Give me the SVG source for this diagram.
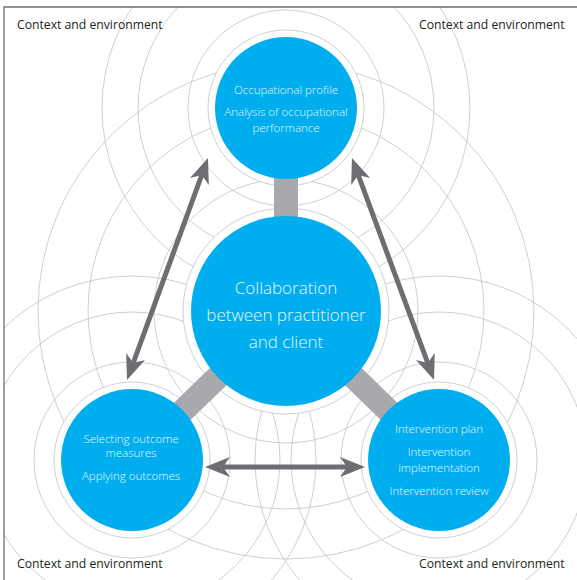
<svg xmlns="http://www.w3.org/2000/svg" width="577" height="580" viewBox="0 0 577 580">
<style>
.ring{fill:none;stroke:#c9cacc;stroke-width:0.9}
.halo{fill:#fff;stroke:#c9cacc;stroke-width:0.9}
.node{fill:#00aeef}
.link{stroke:#a7a9ac;stroke-width:24;fill:none}
.arrow{stroke:#6d6e71;stroke-width:5;fill:none;marker-start:url(#ah);marker-end:url(#ah)}
.frame{stroke:#6d6e71;stroke-width:1.3;fill:none}
.lbl{font-family:"Open Sans","Noto Sans","Liberation Sans",sans-serif;fill:#231f20;font-size:12.2px}
.nt{font-family:"Open Sans","Noto Sans","Liberation Sans",sans-serif;fill:#e6f5fd;font-weight:300;text-anchor:middle}
.s{font-size:11.5px}
.b{font-size:17px}
</style>
<defs>
<clipPath id="frameclip"><rect x="4" y="7" width="573" height="573"/></clipPath>
<marker id="ah" markerUnits="userSpaceOnUse" orient="auto-start-reverse" refX="0" refY="0" markerWidth="40" markerHeight="40" overflow="visible">
<path d="M16,0 L-9,-10 L-2,0 L-9,10 Z" fill="#6d6e71"/>
</marker>
</defs>
<rect width="577" height="580" fill="#fff"/>
<g id="ripples" clip-path="url(#frameclip)">
<g transform="translate(286,108)">
<circle class="ring" r="98"/><circle class="ring" r="148"/><circle class="ring" r="184"/>
</g>
<g transform="translate(286,311)">
<circle class="ring" r="132"/><circle class="ring" r="198"/><circle class="ring" r="248"/>
</g>
<g transform="translate(132,460)">
<circle class="ring" r="98"/><circle class="ring" r="148"/><circle class="ring" r="184"/>
</g>
<g transform="translate(439,460)">
<circle class="ring" r="98"/><circle class="ring" r="148"/><circle class="ring" r="184"/>
</g>
</g>
<g id="halos">
<circle class="halo" cx="286" cy="108" r="78"/>
<circle class="halo" cx="286" cy="311" r="103"/>
<circle class="halo" cx="132" cy="460" r="78"/>
<circle class="halo" cx="439" cy="460" r="78"/>
</g>
<path class="frame" d="M4,580 V7 H577"/>
<g id="connectors">
<line class="link" x1="286" y1="108" x2="286" y2="311"/>
<line class="link" x1="286" y1="311" x2="132" y2="460"/>
<line class="link" x1="286" y1="311" x2="439" y2="460"/>
<line class="arrow" x1="132.5" y1="365" x2="202.5" y2="173"/>
<line class="arrow" x1="357.5" y1="173" x2="428.5" y2="365"/>
<line class="arrow" x1="221" y1="467" x2="349" y2="467"/>
</g>
<g id="node-top">
<circle class="node" cx="286" cy="108" r="71"/>
<text class="nt s" x="286" y="94">Occupational profile</text>
<text class="nt s" x="286" y="116">Analysis of occupational</text>
<text class="nt s" x="286" y="131.5">performance</text>
</g>
<g id="node-center">
<circle class="node" cx="286" cy="311" r="95"/>
<text class="nt b" x="286" y="294">Collaboration</text>
<text class="nt b" x="286" y="321">between practitioner</text>
<text class="nt b" x="286" y="348">and client</text>
</g>
<g id="node-outcomes">
<circle class="node" cx="132" cy="460" r="71"/>
<text class="nt s" x="131" y="443">Selecting outcome</text>
<text class="nt s" x="131" y="457">measures</text>
<text class="nt s" x="131" y="480">Applying outcomes</text>
</g>
<g id="node-intervention">
<circle class="node" cx="439" cy="460" r="71"/>
<text class="nt s" x="439" y="433">Intervention plan</text>
<text class="nt s" x="439" y="456">Intervention</text>
<text class="nt s" x="439" y="471.5">implementation</text>
<text class="nt s" x="439" y="495">Intervention review</text>
</g>
<g id="labels">
<text class="lbl" x="17" y="29">Context and environment</text>
<text class="lbl" x="419" y="29">Context and environment</text>
<text class="lbl" x="17" y="568">Context and environment</text>
<text class="lbl" x="419" y="568">Context and environment</text>
</g>
</svg>
